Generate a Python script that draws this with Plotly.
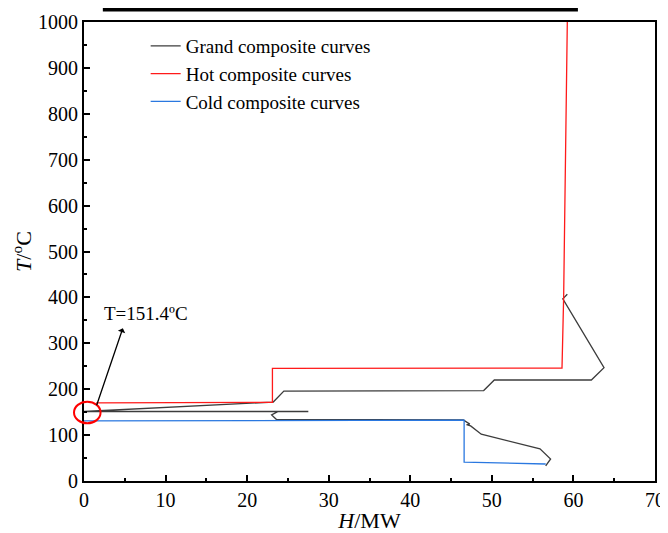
import plotly.graph_objects as go

# Grand composite curve (H in MW, T in degC)
gcc_h = [59.25, 58.7, 63.75, 62.2, 50.3, 49.0, 24.5, 23.2, 0.0, 27.5, 23.8, 23.0, 23.6,
         46.5, 47.3, 46.9, 47.4, 48.7, 55.9, 57.2, 56.6]
gcc_t = [407, 397, 247, 220, 220, 197, 196, 172, 151.4, 151.4, 151.4, 144, 134,
         133, 124, 123, 120, 102, 70, 48, 33]

# Hot composite curve
hot_h = [1.5, 23.1, 23.1, 58.6, 58.8, 59.25]
hot_t = [170, 171.5, 245.5, 246, 400, 1000]

# Cold composite curve
cold_h = [0.0, 46.6, 46.6, 56.6]
cold_t = [131, 132.5, 41, 37]

font = "Liberation Serif, Times New Roman, serif"

fig = go.Figure()
fig.add_trace(go.Scatter(x=gcc_h, y=gcc_t, mode="lines", name="Grand composite curves",
                         line=dict(color="#3c3c3c", width=1.3)))
fig.add_trace(go.Scatter(x=hot_h, y=hot_t, mode="lines", name="Hot composite curves",
                         line=dict(color="#ff1a1a", width=1.3)))
fig.add_trace(go.Scatter(x=cold_h, y=cold_t, mode="lines", name="Cold composite curves",
                         line=dict(color="#2a78e0", width=1.3)))

# pinch marker (paper coords so it is not clipped at the axis)
fig.add_shape(type="circle", xref="paper", yref="paper", x0=-0.0175, x1=0.029, y0=0.1257, y1=0.1728,
              line=dict(color="#ff0000", width=2))
fig.add_annotation(x=1.55, y=165, ax=4.82, ay=336, xref="x", yref="y", axref="x", ayref="y",
                   text="", showarrow=True, arrowhead=2, arrowsize=1.2, arrowwidth=1.3,
                   arrowcolor="black", arrowside="start")
fig.add_annotation(x=2.2, y=366, xref="x", yref="y", text="T=151.4ºC", showarrow=False,
                   xanchor="left", font=dict(family=font, size=19, color="black"))

# cut-off title bar at the very top of the figure
fig.add_shape(type="rect", xref="paper", yref="paper", x0=0.033, x1=0.865, y0=1.023, y1=1.031,
              fillcolor="black", line=dict(width=0))

axis_common = dict(showline=True, linecolor="black", linewidth=2, mirror=True,
                   ticks="inside", ticklen=6, tickwidth=2, tickcolor="black",
                   showgrid=False, zeroline=False, automargin=False,
                   tickfont=dict(family=font, size=20, color="black"))

fig.update_xaxes(range=[0, 70], dtick=10,
                 minor=dict(ticks="inside", ticklen=3, tickwidth=2, dtick=5, tickcolor="black"),
                 title=dict(text="<i>H</i>/MW", font=dict(family=font, size=22, color="black"),
                            standoff=2),
                 **axis_common)
fig.update_yaxes(range=[0, 1000], dtick=100,
                 minor=dict(ticks="inside", ticklen=3, tickwidth=2, dtick=50, tickcolor="black"),
                 title=dict(text="<i>T</i>/<sup>o</sup>C", font=dict(family=font, size=22, color="black"),
                            standoff=4),
                 **axis_common)

# the page body adds an 8 px offset, so the figure is 8 px smaller than the window
fig.update_layout(
    width=660, height=525,
    margin=dict(l=76, r=13, t=14, b=52, autoexpand=False),
    plot_bgcolor="white", paper_bgcolor="white",
    font=dict(family=font, color="black"),
    legend=dict(x=0.108, y=0.989, xanchor="left", yanchor="top",
                bgcolor="rgba(0,0,0,0)", font=dict(family=font, size=19),
                tracegroupgap=0, itemwidth=30),
)

fig.write_html("out.html")
